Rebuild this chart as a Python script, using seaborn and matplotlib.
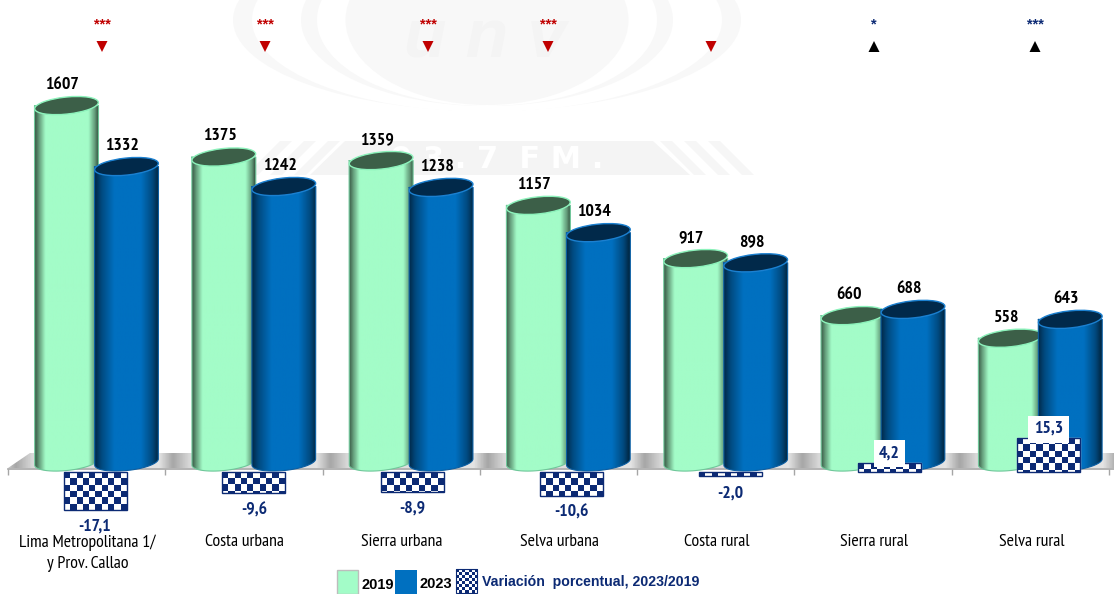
import numpy as np
import pandas as pd
import matplotlib
matplotlib.use("Agg")
import matplotlib.pyplot as plt
import matplotlib.font_manager as fm
import seaborn as sns
from matplotlib.colors import LinearSegmentedColormap
from matplotlib.patches import Ellipse, Polygon, Rectangle
from matplotlib.path import Path
from matplotlib.transforms import Affine2D, IdentityTransform, ScaledTranslation

# Data
regions = ["Lima Metropolitana 1/\ny Prov. Callao", "Costa urbana", "Sierra urbana",
           "Selva urbana", "Costa rural", "Sierra rural", "Selva rural"]
values_2019 = [1607, 1375, 1359, 1157, 917, 660, 558]
values_2023 = [1332, 1242, 1238, 1034, 898, 688, 643]
variation = [-17.1, -9.6, -8.9, -10.6, -2.0, 4.2, 15.3]
stars = ["***", "***", "***", "***", "", "*", "***"]
directions = ["down", "down", "down", "down", "down", "up", "up"]

W, H = 1114, 594
NAVY = "#0c2a74"
GREEN = "#a3fcc8"
BLUE = "#0070c0"

# a narrow face if there is one, otherwise plain Liberation Sans with smaller sizes
installed = {f.name for f in fm.fontManager.ttflist}
NARROW = next((n for n in ["Liberation Sans Narrow", "PT Sans Narrow", "Pragati Narrow"] if n in installed),
              "Liberation Sans")
size_k = 1.0 if NARROW != "Liberation Sans" else 0.82

sns.set_theme(style="white")
plt.rcParams["font.family"] = ["Liberation Sans", "DejaVu Sans"]

fig = plt.figure(figsize=(W / 100, H / 100), dpi=100)
ax = fig.add_axes([0, 0, 1, 1])
ax.patch.set_alpha(0)
ax2 = fig.add_axes([0, 0, 1, 1])
ax2.patch.set_visible(False)

# reference pixels, y going down
px = Affine2D().scale(1, -1).translate(0, H)

# scales: cylinders start at pixel 462, variation bars at 472 and step a little wider
BAR_SCALE = 0.2218
VAR_SCALE = 2.22
STEP = 157.3
FIRST = 96.5
VAR_STEP = 158.9
VAR_FIRST = 95


def set_scales():
    ax.set_xlim(-FIRST / STEP, (W - FIRST) / STEP)
    ax.set_ylim((462 - H) / BAR_SCALE, 462 / BAR_SCALE)
    ax2.set_xlim(-VAR_FIRST / VAR_STEP, (W - VAR_FIRST) / VAR_STEP)
    ax2.set_ylim((472 - H) / VAR_SCALE, 472 / VAR_SCALE)


df = pd.DataFrame({"region": regions * 2,
                   "year": ["2019"] * 7 + ["2023"] * 7,
                   "value": values_2019 + values_2023})
sns.barplot(data=df, x="region", y="value", hue="year", ax=ax, width=120 / STEP,
            palette={"2019": GREEN, "2023": BLUE}, legend=False, errorbar=None)

var_df = pd.DataFrame({"region": regions, "variation": variation})
sns.barplot(data=var_df, x="region", y="variation", ax=ax2, width=63 / VAR_STEP,
            color="white", errorbar=None)
set_scales()
ax.set_xlabel("")
ax.set_ylabel("")
ax2.set_xlabel("")
ax2.set_ylabel("")
ax.set_yticks([])
ax2.set_yticks([])
ax2.set_xticks([])
for side in ["top", "left", "right", "bottom"]:
    ax2.spines[side].set_visible(False)
for side in ["top", "left", "right"]:
    ax.spines[side].set_visible(False)

# watermark behind everything
for w, h, cy, col in [(508, 182, 20, "#f8f8f8"), (470, 184, 20, "white"),
                      (372, 172, 20, "#f8f8f8"), (340, 172, 20, "white"),
                      (283, 170, 20, "#f8f8f8")]:
    ax.add_patch(Ellipse((487, cy), w, h, transform=px, fc=col, ec="none", zorder=0))
ax.text(485, 40, "u n v", transform=px, fontsize=50, fontstyle="italic", fontweight="bold",
        color="#f4f4f4", ha="center", va="center", zorder=0.1)
ax.add_patch(Polygon([(310, 175), (345, 141), (653, 141), (690, 175)], transform=px,
                     fc="#f4f4f4", ec="none", zorder=0))
for dx in [0, 24, 48]:
    ax.add_patch(Polygon([(694 + dx, 175), (660 + dx, 141), (672 + dx, 141), (706 + dx, 175)],
                         transform=px, fc="#f6f6f6", ec="none", zorder=0))
    ax.add_patch(Polygon([(306 - dx, 175), (340 - dx, 141), (328 - dx, 141), (294 - dx, 175)],
                         transform=px, fc="#f6f6f6", ec="none", zorder=0))
ax.text(497, 159, "9 3 . 7  F M .", transform=px, fontsize=22, fontweight="bold", color="white",
        family="DejaVu Sans", ha="center", va="center", zorder=0.1)

# grey floor under the cylinders, shade repeats once per category
floor_cmap = LinearSegmentedColormap.from_list(
    "floor", [(0, "#e4e4e4"), (0.09, "#a6a6a6"), (0.2, "#dadada"), (1, "#e4e4e4")])
floor = ax.imshow(np.tile(np.linspace(0, 1, 157), 8).reshape(1, -1), cmap=floor_cmap, aspect="auto", zorder=1,
                  extent=(1, 1 + 8 * STEP, 468, 453), transform=px)
floor.set_clip_path(Polygon([(8, 468), (30, 453), (W, 453), (W, 468)], transform=px))
set_scales()

# x axis: line and boundary ticks at pixel 469, labels moved to the left of the bars
ax.spines["bottom"].set_position(("data", (462 - 469) / BAR_SCALE))
ax.spines["bottom"].set_color("#a6a6a6")
ax.spines["bottom"].set_linewidth(1.2)
ax.spines["bottom"].set_bounds((8 - FIRST) / STEP, (W - FIRST) / STEP)
ax.set_xticks(range(7), regions)
ax.tick_params(axis="x", which="major", length=0, pad=47, labelsize=12.8 * size_k, labelcolor="black")
ax.set_xticks([(8 - FIRST + i * STEP) / STEP for i in range(8)], minor=True)
ax.tick_params(axis="x", which="minor", length=4, width=1, color="#a6a6a6", bottom=True)
shift = ScaledTranslation(-9 / 100, 0, fig.dpi_scale_trans)
for lab in ax.get_xticklabels():
    lab.set_transform(lab.get_transform() + shift)
    lab.set_family(NARROW)
    lab.set_linespacing(1.45)

# cylinders from the seaborn bars
green_cmap = LinearSegmentedColormap.from_list(
    "g", [(0, "#3c5c48"), (0.05, "#5d9272"), (0.16, GREEN), (0.84, GREEN), (0.95, "#5d9272"), (1, "#2f4a39")])
blue_cmap = LinearSegmentedColormap.from_list(
    "b", [(0, "#012a4a"), (0.1, "#014a80"), (0.3, BLUE), (0.72, BLUE), (0.9, "#014a80"), (1, "#012640")])
to_disp = ax.transData.transform
inv = ax.transData.inverted()
TILT = 6
EH = 17
bars = [p for p in ax.patches if isinstance(p, Rectangle)][:14]
for n, bar in enumerate(bars):
    is_green = n < 7
    (x0, y0), (x1, y1) = to_disp((bar.get_x(), 0)), to_disp((bar.get_x() + bar.get_width(), bar.get_height()))
    x0, x1 = x0 - 2, x1 + 2
    cx, w = (x0 + x1) / 2, x1 - x0
    t = np.radians(TILT)
    # bottom half of a tilted ellipse, left to right
    a = np.linspace(np.pi, 2 * np.pi, 40)
    ex = w / 2 * np.cos(a)
    ey = EH / 2 * np.sin(a)
    rx = ex * np.cos(t) - ey * np.sin(t)
    ry = ex * np.sin(t) + ey * np.cos(t)
    pts = np.vstack([[x0, y1], np.c_[cx + rx, y0 + ry], [x1, y1]])
    pts[:, 0] = np.clip(pts[:, 0], x0, x1)
    outline = Path(np.vstack([pts, pts[0]]), closed=True)
    bar.set_visible(False)
    z = 3 + n / 10 if is_green else 4 + n / 10
    (dx0, dy0), (dx1, dy1) = inv.transform((x0, y0 - 14)), inv.transform((x1, y1 + 14))
    im = ax.imshow(np.linspace(0, 1, 120).reshape(1, -1), extent=(dx0, dx1, dy0, dy1), aspect="auto",
                   cmap=green_cmap if is_green else blue_cmap, zorder=z)
    im.set_clip_path(outline, IdentityTransform())
    rim = "#8cf2bb" if is_green else "#1b80d0"
    ax.add_line(plt.Line2D(outline.vertices[:, 0], outline.vertices[:, 1], transform=IdentityTransform(),
                           color="#6fc79a" if is_green else "#0a5ea3", lw=0.8, zorder=z))
    ax.add_patch(Ellipse((cx, y1), w, EH, angle=TILT, transform=IdentityTransform(),
                         fc="#3c5f48" if is_green else "#01294a", ec=rim, lw=1.0, zorder=z + 0.01))
    ax.annotate(str(int(bar.get_height())), (bar.get_x() + bar.get_width() / 2, bar.get_height()),
                xytext=(-3, 12), textcoords="offset points", ha="center", va="baseline",
                family=NARROW, fontweight="bold", fontsize=12.8 * size_k, color="black", zorder=20)
set_scales()

# checker fill of the variation bars
CELL = 6.33
for bar, val in zip(list(ax2.patches), variation):
    top, bottom = (bar.get_height(), 0) if val > 0 else (0, bar.get_height())
    rows = int(np.ceil(abs(val) * VAR_SCALE / CELL)) + 1
    cols = int(round(bar.get_width() * VAR_STEP / CELL))
    check = np.indices((rows, cols)).sum(axis=0) % 2
    yend = top - rows * CELL / VAR_SCALE
    im = ax2.imshow(check, extent=(bar.get_x(), bar.get_x() + bar.get_width(), yend, top), aspect="auto",
                    interpolation="nearest", cmap=LinearSegmentedColormap.from_list("c", [NAVY, "white"]), zorder=3)
    im.set_clip_path(bar)
    ax2.add_patch(Rectangle((bar.get_x(), bottom), bar.get_width(), top - bottom, fc="none", ec=NAVY, lw=1, zorder=4))
    # label under or over the bar, small white box for the positive ones
    mid = bar.get_x() + bar.get_width() / 2
    text = f"{val:.1f}".replace(".", ",")
    if val < 0:
        ax2.text(mid, bottom - 9 / VAR_SCALE, text, ha="center", va="top", family=NARROW, fontweight="bold",
                 fontsize=12.8 * size_k, color=NAVY, zorder=5)
    else:
        ax2.text(mid, top + 9 / VAR_SCALE, text, ha="center", va="center", family=NARROW, fontweight="bold",
                 fontsize=12.8 * size_k, color=NAVY, zorder=5, bbox=dict(fc="white", ec="none", pad=4))
set_scales()

# significance marks on top
mark_x = [102, 265, 428, 548, 711, 874, 1035]
for x, s, d in zip(mark_x, stars, directions):
    up = d == "up"
    tri = [(x - 5.5, 52), (x + 5.5, 52), (x, 41)] if up else [(x - 5.5, 41), (x + 5.5, 41), (x, 52)]
    ax.add_patch(Polygon(tri, transform=px, fc="black" if up else "#c00000", ec="none", zorder=6))
    if s:
        ax.text(x, 24, s, transform=px, ha="center", va="center", fontweight="bold", fontsize=10.5,
                color=NAVY if up else "#c00000", zorder=6)

# legend built by hand at the bottom
ax2.add_patch(Rectangle((337, 570), 21, 24, transform=px, fc=GREEN, ec="#bdbdbd", lw=1, zorder=6))
ax2.add_patch(Rectangle((395, 570), 22, 24, transform=px, fc=BLUE, ec="none", zorder=6))
swatch = Rectangle((456, 569), 21, 24, transform=px, fc="none", ec=NAVY, lw=0.8, zorder=8)
ax2.add_patch(swatch)
inv2 = ax2.transData.inverted()
(sx0, sy0), (sx1, sy1) = inv2.transform(px.transform((456, 593))), inv2.transform(px.transform((477, 569)))
ax2.imshow(np.indices((8, 7)).sum(axis=0) % 2, extent=(sx0, sx1, sy0, sy1), aspect="auto", interpolation="nearest",
           cmap=LinearSegmentedColormap.from_list("c2", [NAVY, "white"]), zorder=7)
ax2.text(361, 585, "2019", transform=px, fontweight="bold", fontsize=10.5, color="black", va="center", zorder=7)
ax2.text(420, 584, "2023", transform=px, fontweight="bold", fontsize=10.5, color="black", va="center", zorder=7)
ax2.text(482, 582, "Variación  porcentual, 2023/2019", transform=px, fontweight="bold", fontsize=10.2,
         color=NAVY, va="center", zorder=7)
set_scales()

fig.savefig("out.png", dpi=100)
